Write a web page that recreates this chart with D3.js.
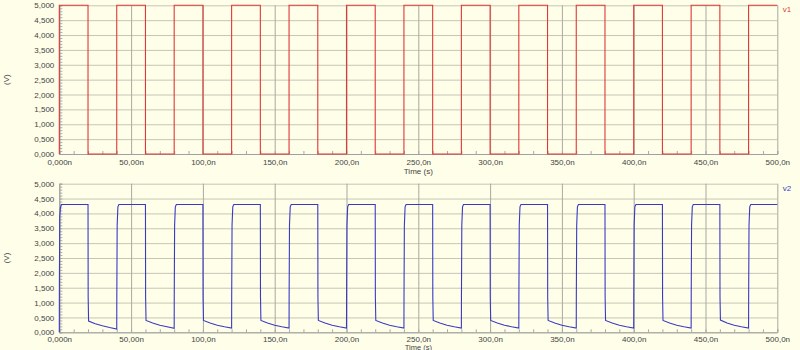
<!DOCTYPE html>
<html><head><meta charset="utf-8">
<script src="https://cdn.jsdelivr.net/npm/d3@7"></script>
<style>
html,body{margin:0;padding:0;background:#fefee9;}
svg{display:block;}
text{font-family:"Liberation Sans",Arial,sans-serif;}
</style></head>
<body><svg id="c" width="800" height="350"></svg>
<script>
// ---- data (time in ns, voltage in V) ----
const yTickValues = [0,0.5,1,1.5,2,2.5,3,3.5,4,4.5,5];
const yTickLabels = ["0,000","0,500","1,000","1,500","2,000","2,500","3,000","3,500","4,000","4,500","5,000"];
const xTickValues = [0,50,100,150,200,250,300,350,400,450,500];
const xTickLabels = ["0,000n","50,00n","100,0n","150,0n","200,0n","250,0n","300,0n","350,0n","400,0n","450,0n","500,0n"];
const seriesNames = ["v1","v2"];

const v1Time = [0,0,20,20,40,40,60,60,80,80,100,100,120,120,140,140,160,160,180,180,200,200,220,220,240,240,
  260,260,280,280,300,300,320,320,340,340,360,360,380,380,400,400,420,420,440,440,460,460,480,480,500];
const v1Volt = [0,5,5,0,0,5,5,0,0,5,5,0,0,5,5,0,0,5,5,0,0,5,5,0,0,5,
  5,0,0,5,5,0,0,5,5,0,0,5,5,0,0,5,5,0,0,5,5,0,0,5,5];

const v2Time = [0,
  0.05,0.3,0.8,1.5,20,20.1,20.4,25,30,35,40,
  40.05,40.3,40.8,41.5,60,60.1,60.4,65,70,75,80,
  80.05,80.3,80.8,81.5,100,100.1,100.4,105,110,115,120,
  120.05,120.3,120.8,121.5,140,140.1,140.4,145,150,155,160,
  160.05,160.3,160.8,161.5,180,180.1,180.4,185,190,195,200,
  200.05,200.3,200.8,201.5,220,220.1,220.4,225,230,235,240,
  240.05,240.3,240.8,241.5,260,260.1,260.4,265,270,275,280,
  280.05,280.3,280.8,281.5,300,300.1,300.4,305,310,315,320,
  320.05,320.3,320.8,321.5,340,340.1,340.4,345,350,355,360,
  360.05,360.3,360.8,361.5,380,380.1,380.4,385,390,395,400,
  400.05,400.3,400.8,401.5,420,420.1,420.4,425,430,435,440,
  440.05,440.3,440.8,441.5,460,460.1,460.4,465,470,475,480,
  480.05,480.3,480.8,481.5,500];
const v2Volt = [0,
  1.5,3.9,4.2,4.3,4.3,1.2,0.38,0.29,0.22,0.16,0.11,
  1.2,3.6,4.22,4.3,4.3,1.2,0.40,0.31,0.24,0.185,0.135,
  1.2,3.6,4.22,4.3,4.3,1.2,0.40,0.31,0.24,0.185,0.14,
  1.2,3.6,4.22,4.3,4.3,1.2,0.40,0.31,0.24,0.185,0.14,
  1.2,3.6,4.22,4.3,4.3,1.2,0.40,0.31,0.24,0.185,0.14,
  1.2,3.6,4.22,4.3,4.3,1.2,0.40,0.31,0.24,0.185,0.14,
  1.2,3.6,4.22,4.3,4.3,1.2,0.40,0.31,0.24,0.185,0.14,
  1.2,3.6,4.22,4.3,4.3,1.2,0.40,0.31,0.24,0.185,0.14,
  1.2,3.6,4.22,4.3,4.3,1.2,0.40,0.31,0.24,0.185,0.14,
  1.2,3.6,4.22,4.3,4.3,1.2,0.40,0.31,0.24,0.185,0.14,
  1.2,3.6,4.22,4.3,4.3,1.2,0.40,0.31,0.24,0.185,0.14,
  1.2,3.6,4.22,4.3,4.3,1.2,0.41,0.31,0.24,0.185,0.14,
  1.2,3.6,4.22,4.3,4.3,1.2,0.41,0.31,0.24,0.185,0.14,
  1.2,3.6,4.22,4.3,4.3];

// ---- drawing ----
const svg = d3.select("#c");
const left = 59.3, right = 777.3;
const panels = [
  {name: seriesNames[0], t: v1Time, v: v1Volt, top: 5.3, bottom: 154, color: "#e03838", titleY: 174, pad: 5, tfs: 8},
  {name: seriesNames[1], t: v2Time, v: v2Volt, top: 183.7, bottom: 332.3, color: "#3a3ac4", titleY: 349.6, pad: 4, tfs: 7.5}
];
const x = d3.scaleLinear().domain([0,500]).range([left,right]);
const minorY = d3.range(0, 5.0001, 0.1);
const minorX = d3.range(0, 500.1, 10);

panels.forEach(p => {
  const y = d3.scaleLinear().domain([0,5]).range([p.bottom,p.top]);
  const g = svg.append("g");
  const w = right-left, h = p.bottom-p.top;

  // horizontal grid
  g.append("g").attr("transform",`translate(${left},0)`)
    .call(d3.axisLeft(y).tickValues(yTickValues).tickSize(-w).tickFormat(""))
    .call(s=>{s.select(".domain").remove(); s.selectAll("line").attr("stroke","#c6c6b6");});
  // vertical grid
  g.append("g").attr("transform",`translate(0,${p.bottom})`)
    .call(d3.axisBottom(x).tickValues(xTickValues).tickSize(-h).tickFormat(""))
    .call(s=>{s.select(".domain").remove(); s.selectAll("line").attr("stroke","#a9a9a0");});
  // minor ticks y (inside)
  g.append("g").attr("transform",`translate(${left},0)`)
    .call(d3.axisRight(y).tickValues(minorY).tickSize(3).tickFormat(""))
    .call(s=>{s.select(".domain").attr("stroke","#a0a0a0"); s.selectAll("line").attr("stroke","#a8a8a8");});
  // minor ticks x (inside, upwards)
  g.append("g").attr("transform",`translate(0,${p.bottom})`)
    .call(d3.axisTop(x).tickValues(minorX).tickSize(3).tickFormat(""))
    .call(s=>{s.select(".domain").attr("stroke","#a0a0a0"); s.selectAll("line").attr("stroke","#a8a8a8");});
  // y labels
  g.append("g").attr("transform",`translate(${left},0)`)
    .call(d3.axisLeft(y).tickValues(yTickValues).tickSize(0).tickPadding(5).tickFormat((d,i)=>yTickLabels[i]))
    .call(s=>{s.select(".domain").remove(); s.selectAll("text").attr("font-size",8).attr("fill","#444").attr("font-family","Liberation Sans, Arial, sans-serif");});
  // x labels
  g.append("g").attr("transform",`translate(0,${p.bottom})`)
    .call(d3.axisBottom(x).tickValues(xTickValues).tickSize(0).tickPadding(p.pad).tickFormat((d,i)=>xTickLabels[i]))
    .call(s=>{s.select(".domain").remove(); s.selectAll("text").attr("font-size",8).attr("fill","#444").attr("font-family","Liberation Sans, Arial, sans-serif");});
  // axis titles
  g.append("text").attr("x",x(250)).attr("y",p.titleY).attr("text-anchor","middle")
    .attr("font-size",p.tfs).attr("fill","#444").text("Time (s)");
  g.append("text").attr("transform",`translate(9,${(p.top+p.bottom)/2}) rotate(-90)`)
    .attr("text-anchor","middle").attr("font-size",8).attr("fill","#444").text("(V)");
  // series label
  g.append("text").attr("x",787).attr("y",p.top+7).attr("text-anchor","middle")
    .attr("font-size",8).attr("fill",p.color).text(p.name);
  // line
  const pts = p.t.map((t,i)=>[t,p.v[i]]);
  g.append("path").datum(pts)
    .attr("d", d3.line().x(d=>x(d[0])).y(d=>y(d[1])))
    .attr("fill","none").attr("stroke",p.color).attr("stroke-width",1.1);
});
</script></body></html>
